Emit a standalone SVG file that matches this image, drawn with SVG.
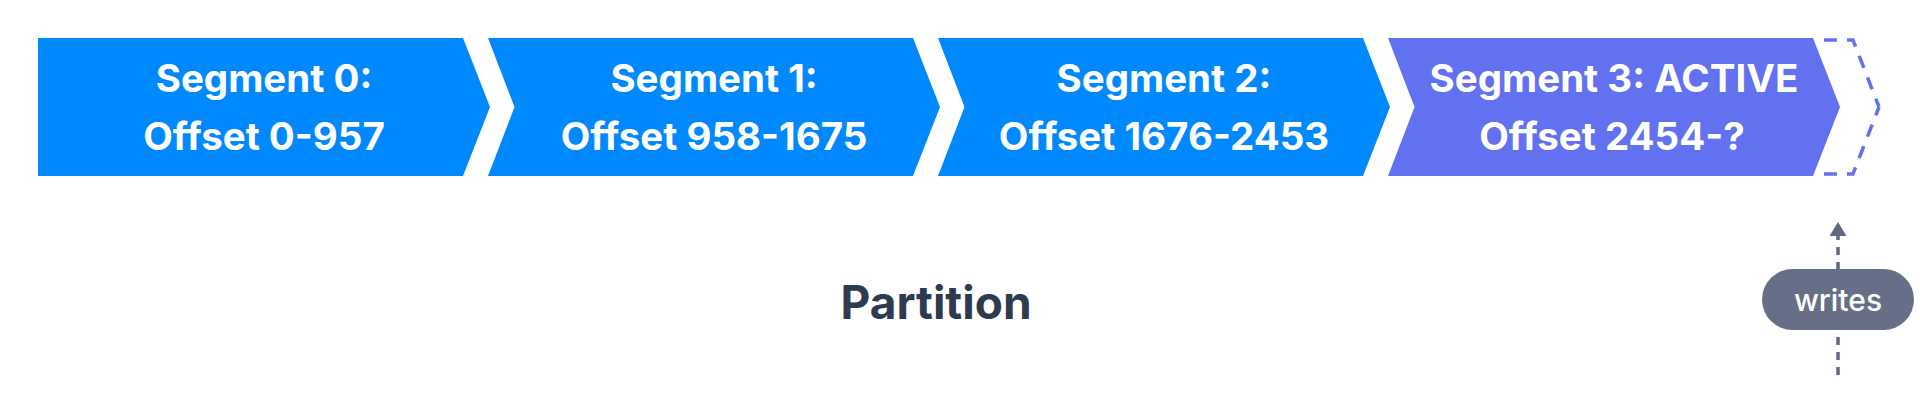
<svg xmlns="http://www.w3.org/2000/svg" width="1920" height="415" viewBox="0 0 1920 415">
  <style>
    .seg { fill: #0088ff; }
    .active { fill: #6271f0; }
    .segtxt { font-family: Inter, "Noto Sans", "Liberation Sans", sans-serif; font-weight: 700; font-size: 38.5px; fill: #ffffff; text-anchor: middle; }
    .title { font-family: Inter, "Noto Sans", "Liberation Sans", sans-serif; font-weight: 700; font-size: 46px; fill: #2d3a50; text-anchor: middle; }
    .pilltxt { font-family: Inter, "Noto Sans", "Liberation Sans", sans-serif; font-weight: 500; font-size: 30px; fill: #ffffff; text-anchor: middle; }
    .future { fill: none; stroke: #6271f0; stroke-width: 3.5; stroke-dasharray: 13 10; }
    .conn { fill: none; stroke: #5f6880; stroke-width: 3.5; stroke-dasharray: 8 7; }
    .head { fill: #5f6880; }
  </style>
  <rect width="1920" height="415" fill="#ffffff"/>

  <g id="segment0">
    <polygon class="seg" points="38,38 463,38 490,107 463,176 38,176"/>
    <text class="segtxt" x="264" y="92">Segment 0:</text>
    <text class="segtxt" x="264" y="150">Offset 0-957</text>
  </g>
  <g id="segment1">
    <polygon class="seg" points="488,38 913,38 940,107 913,176 488,176 514.5,107"/>
    <text class="segtxt" x="714" y="92">Segment 1:</text>
    <text class="segtxt" x="714" y="150">Offset 958-1675</text>
  </g>
  <g id="segment2">
    <polygon class="seg" points="938,38 1363,38 1390,107 1363,176 938,176 964.5,107"/>
    <text class="segtxt" x="1164" y="92">Segment 2:</text>
    <text class="segtxt" x="1164" y="150">Offset 1676-2453</text>
  </g>
  <g id="segment3">
    <polygon class="active" points="1388,38 1813,38 1840,107 1813,176 1388,176 1414.5,107"/>
    <text class="segtxt" x="1614" y="92">Segment 3: ACTIVE</text>
    <text class="segtxt" x="1612" y="150">Offset 2454-?</text>
  </g>
  <g id="next-segment">
    <path class="future" d="M1824,40 H1853 L1879,107"/>
    <path class="future" d="M1824,174 H1853 L1879,107"/>
  </g>
  <g id="partition-label">
    <text class="title" x="936" y="319">Partition</text>
  </g>

  <g id="connectors">
    <line class="conn" x1="1838" y1="375" x2="1838" y2="236"/>
    <polygon class="head" points="1838,222 1846.5,236 1829.5,236"/>
  </g>
  <g id="writes">
    <rect x="1762" y="269" width="152" height="61" rx="30.5" ry="30.5" fill="#666f87"/>
    <text class="pilltxt" x="1838" y="311">writes</text>
  </g>
</svg>
